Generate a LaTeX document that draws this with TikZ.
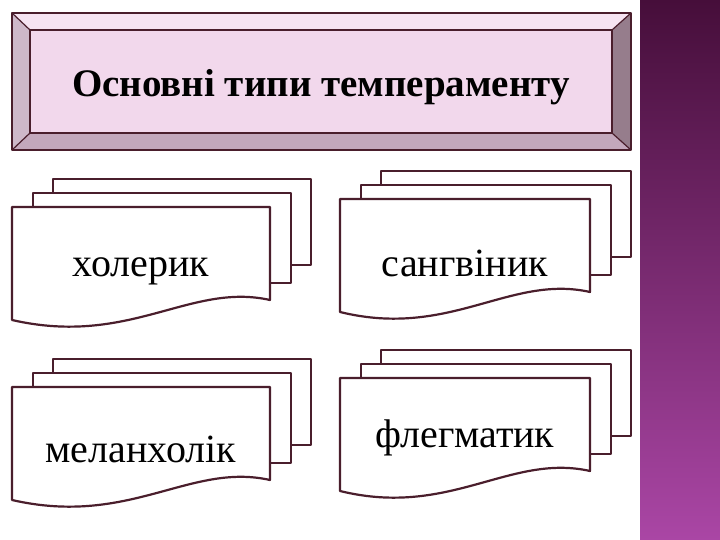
\documentclass[tikz,border=0pt]{standalone}
\usepackage{fontspec}
\setmainfont{Liberation Serif}
\begin{document}
\begin{tikzpicture}[x=1pt,y=-1pt,
  ln/.style={draw=lnc,line width=2.2pt,line join=round},
  lab/.style={font=\fontsize{40}{40}\selectfont,text=black}]
\definecolor{lnc}{HTML}{4A1E2C}
\definecolor{tfill}{HTML}{F2D8EC}
\definecolor{bvr}{RGB}{150,125,140}
\definecolor{bvb}{RGB}{195,168,188}
\definecolor{sbt}{RGB}{70,14,58}
\definecolor{sbb}{RGB}{170,70,165}
\useasboundingbox (0,0) rectangle (720,540);
\fill[white] (0,0) rectangle (720,540);
\shade[top color=sbt,bottom color=sbb] (640,0) rectangle (720,540);
% title bevel
\fill[tfill!70!white] (12,13) -- (631,13) -- (612,30) -- (30,30) -- cycle;
\fill[tfill!85!black] (12,13) -- (30,30) -- (30,133) -- (12,150) -- cycle;
\fill[bvr] (631,13) -- (631,150) -- (612,133) -- (612,30) -- cycle;
\fill[bvb] (12,150) -- (30,133) -- (612,133) -- (631,150) -- cycle;
\draw[lnc,line width=1.2pt] (12,13)--(30,30) (631,13)--(612,30) (12,150)--(30,133) (631,150)--(612,133);
\draw[ln,fill=tfill] (30,30) rectangle (612,133);
\draw[ln,fill=none] (12,13) rectangle (631,150);
\node[font=\bfseries\fontsize{39}{39}\selectfont] (title) at (321,87) {Основні типи темпераменту};
% multidocument macro
\newcommand\mdoc[6]{% x, y(top of front), width, name, text, textdy
  \begin{scope}[shift={(#1,#2)}]
  \draw[ln,fill=white] (41,-28) rectangle (41+#3,58);
  \draw[ln,fill=white] (21,-14) rectangle (21+#3,76);
  \draw[ln,fill=white] (0,0) -- (#3,0) -- (#3,93) .. controls (#3-80,75) and (#3-140,140) .. (0,113) -- cycle;
  \node[lab] (#4) at (#3/2,#6) {#5};
  \end{scope}}
\mdoc{12}{207}{258}{a}{холерик}{64}
\mdoc{340}{199}{250}{b}{сангвіник}{64}
\mdoc{12}{387}{258}{c}{меланхолік}{62}
\mdoc{340}{378}{250}{d}{флегматик}{60}
\end{tikzpicture}
\end{document}
